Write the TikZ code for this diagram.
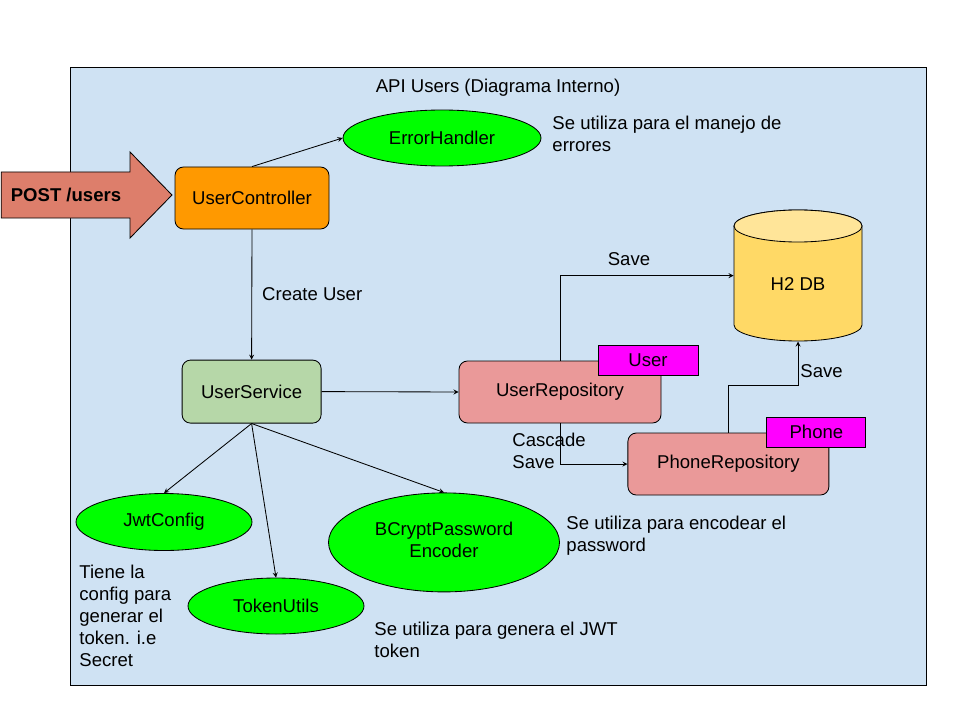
\documentclass[tikz,border=0pt]{standalone}
\usepackage{fontspec}
\setmainfont{Liberation Sans}
\usetikzlibrary{shapes.geometric}
\definecolor{bgblue}{HTML}{CFE2F3}
\definecolor{postred}{HTML}{DD7E6B}
\definecolor{ctrlorange}{HTML}{FF9900}
\definecolor{svcgreen}{HTML}{B6D7A8}
\definecolor{repored}{HTML}{EA9999}
\definecolor{tagpink}{HTML}{FF00FF}
\definecolor{ovalgreen}{HTML}{00FF00}
\definecolor{dbbody}{HTML}{FFD966}
\definecolor{dbtop}{HTML}{FFE599}

\begin{document}
\begin{tikzpicture}[>=stealth, line width=0.6pt,
        box/.style={draw, rounded corners=6pt, minimum height=1.55cm},
        oval/.style={draw, ellipse, fill=ovalgreen, inner sep=0pt, align=center},
        tagbox/.style={draw, fill=tagpink, minimum width=2.5cm, minimum height=0.75cm},
        note/.style={anchor=west, align=left, inner sep=0pt}]
        \fontsize{13.2}{15.6}\selectfont
        \useasboundingbox (0, 0) rectangle (24, 18);
        \draw [fill=bgblue] (1.75, 0.875) rectangle (23.15, 16.325);
        \node (title) at (12.45, 15.8) {API Users (Diagrama Interno)};

        % entrada
        \draw [fill=postred] (0.03, 13.7) -- (3.25, 13.7) -- (3.25, 14.2) -- (4.3, 13.125)
            -- (3.25, 12.05) -- (3.25, 12.55) -- (0.03, 12.55) -- cycle;
        \node [font=\bfseries] (post) at (1.65, 13.125) {POST /users};

        \node [box, fill=ctrlorange, minimum width=3.85cm] (uctrl) at (6.3, 13.05) {UserController};
        \node [oval, minimum width=4.95cm, minimum height=1.4cm] (errh) at (11.05, 14.55) {ErrorHandler};
        \node [note] (errtxt) at (13.8, 14.65) {Se utiliza para el manejo de\\errores};
        \draw [->] (uctrl.north) -- (errh.west);

        \node [box, fill=svcgreen, minimum width=3.475cm, minimum height=1.575cm] (usvc) at (6.29, 8.21) {UserService};
        \draw [->] (uctrl.south) -- (usvc.north) node [note, midway, xshift=0.25cm] {Create User};

        % repositorios
        \node [box, fill=repored, minimum width=5.05cm] (urepo) at (14.0, 8.2) {UserRepository};
        \node [tagbox] (utag) at (16.2, 9.0) {User};
        \node [box, fill=repored, minimum width=5.025cm] (prepo) at (18.21, 6.4) {PhoneRepository};
        \node [tagbox, minimum width=2.475cm] (ptag) at (20.41, 7.2) {Phone};
        \draw [->] (usvc.east) -- (urepo.west);

        % base de datos
        \draw [fill=dbbody] (18.35, 12.35) -- (18.35, 9.875)
            arc [start angle=180, end angle=360, x radius=1.6, y radius=0.4]
            -- (21.55, 12.35) arc [start angle=0, end angle=180, x radius=1.6, y radius=0.4] -- cycle;
        \draw [fill=dbtop] (19.95, 12.35) ellipse [x radius=1.6, y radius=0.4];
        \node [minimum width=3.2cm, minimum height=3.275cm] (h2db) at (19.95, 11.11) {};
        \node (dbtxt) at (19.95, 10.9) {H2 DB};

        \draw [->] (urepo.north) |- (h2db.west);
        \node (save1) at (15.725, 11.525) {Save};
        \draw [->] (prepo.north) -- ++(0, 1.175) -| (h2db.south);
        \node [note] (save2) at (20.0, 8.725) {Save};
        \draw [->] (urepo.south) |- (prepo.west);
        \node [note] (cascade) at (12.8, 6.725) {Cascade\\Save};

        % utilidades
        \node [oval, minimum width=4.4cm, minimum height=1.425cm] (jwtc) at (4.1, 4.95) {JwtConfig};
        \node [oval, minimum width=4.4cm, minimum height=1.4cm] (tokut) at (6.9, 2.85) {TokenUtils};
        \node [oval, minimum width=5.775cm, minimum height=2.475cm] (bcrypt) at (11.1, 4.44) {\raisebox{4pt}{\begin{tabular}{@{}c@{}}BCryptPassword\\Encoder\end{tabular}}};
        \draw [->] (usvc.south) -- (jwtc.north);
        \draw [->] (usvc.south) -- (tokut.north);
        \draw [->] (usvc.south) -- (bcrypt.north);

        \node [note] (jwttxt) at (1.975, 2.6) {Tiene la\\config para\\generar el\\token. i.e\\Secret};
        \node [note] (toktxt) at (9.35, 2.0) {Se utiliza para genera el JWT\\token};
        \node [note] (bcrtxt) at (14.15, 4.6) {Se utiliza para encodear el\\password};
\end{tikzpicture}
\end{document}
